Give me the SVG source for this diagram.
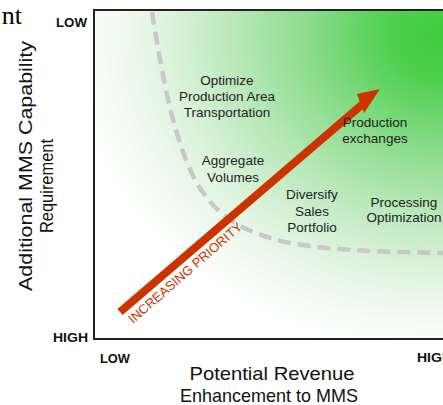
<svg xmlns="http://www.w3.org/2000/svg" width="443" height="405" viewBox="0 0 443 405">
<style>
.lbl{font-family:"Liberation Sans",Arial,sans-serif;font-size:13.5px;fill:#1e1e1e;text-anchor:middle}
.ax{font-family:"Liberation Sans",Arial,sans-serif;font-size:12px;font-weight:bold;fill:#111}
.ttl{font-family:"Liberation Sans",Arial,sans-serif;font-size:19px;fill:#111;text-anchor:middle}
</style>
<defs>
<radialGradient id="g" gradientUnits="userSpaceOnUse" cx="445" cy="35" r="380" gradientTransform="translate(445,35) scale(1,0.85) translate(-445,-35)">
<stop offset="0" stop-color="#3ccd3c"/>
<stop offset="0.15" stop-color="#50d050"/>
<stop offset="0.35" stop-color="#88db88"/>
<stop offset="0.55" stop-color="#b8e8b8"/>
<stop offset="0.75" stop-color="#e0f4e0"/>
<stop offset="0.9" stop-color="#f6fcf6"/>
<stop offset="1" stop-color="#ffffff"/>
</radialGradient>
</defs>
<rect width="443" height="405" fill="#fff"/>
<text x="22" y="24" font-family="'Liberation Serif','Times New Roman',serif" font-size="26" fill="#000" text-anchor="end">nt</text>

<g id="plot">
<rect x="94" y="10" width="352" height="329" fill="url(#g)"/>
<path d="M94,10 V339 M93,10 H443 M93,339 H443" fill="none" stroke="#222" stroke-width="2"/>
</g>

<g id="axis-labels">
<text class="ax" x="87" y="27" text-anchor="end" textLength="31" lengthAdjust="spacingAndGlyphs">LOW</text>
<text class="ax" x="88" y="342" text-anchor="end" textLength="35" lengthAdjust="spacingAndGlyphs">HIGH</text>
<text class="ax" x="100" y="363" textLength="30" lengthAdjust="spacingAndGlyphs">LOW</text>
<text class="ax" x="417" y="362" textLength="35" lengthAdjust="spacingAndGlyphs">HIGH</text>
<text class="ttl" transform="translate(32,166) rotate(-90)" textLength="250" lengthAdjust="spacingAndGlyphs">Additional MMS Capability</text>
<text class="ttl" transform="translate(53,186) rotate(-90)" font-size="18" textLength="94" lengthAdjust="spacingAndGlyphs">Requirement</text>
<text class="ttl" x="272" y="380" textLength="165" lengthAdjust="spacingAndGlyphs">Potential Revenue</text>
<text class="ttl" x="269" y="402" textLength="178" lengthAdjust="spacingAndGlyphs">Enhancement to MMS</text>
</g>

<g id="connectors">
<path id="boundary" d="M152,12 C160,60 170,130 195,180 C215,215 240,232 290,243 C330,250 380,252 443,253" fill="none" stroke="#c8c8c8" stroke-width="4.5" stroke-dasharray="13,7"/>
<g id="priority-arrow">
<line x1="120" y1="312" x2="364" y2="103" stroke="#cc3300" stroke-width="8"/>
<polygon points="380,89 357,94 364,113" fill="#cc3300"/>
<text x="133" y="324" transform="rotate(-41 133 324)" font-family="'Liberation Sans',Arial,sans-serif" font-size="13" fill="#cc3300" textLength="146" lengthAdjust="spacing">INCREASING PRIORITY</text>
</g>
</g>

<g id="n-optimize-transport">
<text class="lbl" x="227" y="85">Optimize</text>
<text class="lbl" x="227" y="101">Production Area</text>
<text class="lbl" x="227" y="117">Transportation</text>
</g>
<g id="n-aggregate">
<text class="lbl" x="233" y="165">Aggregate</text>
<text class="lbl" x="233" y="182">Volumes</text>
</g>
<g id="n-production-exchanges">
<text class="lbl" x="375" y="127">Production</text>
<text class="lbl" x="375" y="143">exchanges</text>
</g>
<g id="n-diversify">
<text class="lbl" x="312" y="199">Diversify</text>
<text class="lbl" x="312" y="216">Sales</text>
<text class="lbl" x="312" y="232">Portfolio</text>
</g>
<g id="n-processing">
<text class="lbl" x="404" y="207">Processing</text>
<text class="lbl" x="404" y="222">Optimization</text>
</g>
</svg>
